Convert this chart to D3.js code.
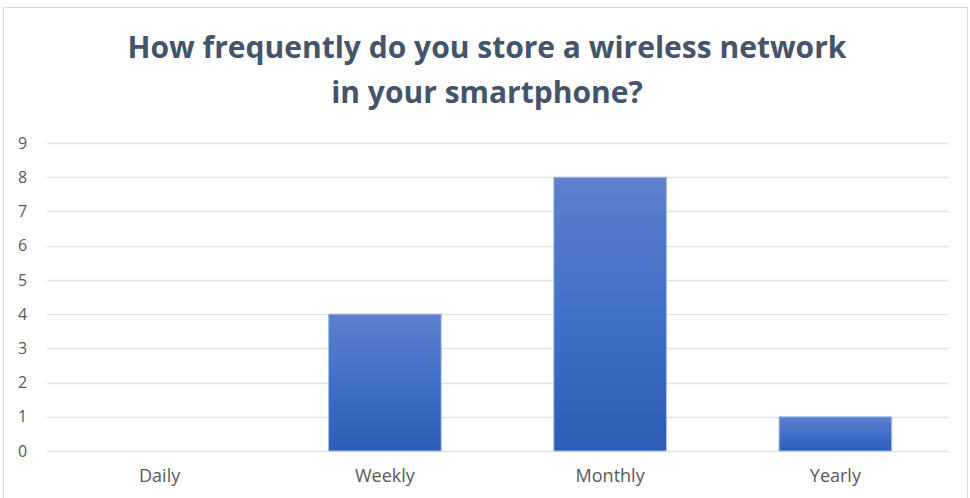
<!DOCTYPE html>
<html>
<head>
<meta charset="utf-8">
<script src="https://cdn.jsdelivr.net/npm/d3@7"></script>
<style>
  html, body { margin: 0; padding: 0; background: #fff; }
  svg { display: block; }
</style>
</head>
<body>
<svg id="chart" width="970" height="498"></svg>
<script>
// Survey answers: how often a wireless network gets saved on the phone
const categories = ["Daily", "Weekly", "Monthly", "Yearly"];
const counts = [0, 4, 8, 1];
const yTicks = [0, 1, 2, 3, 4, 5, 6, 7, 8, 9];
const titleLines = ["How frequently do you store a wireless network", "in your smartphone?"];

const W = 970, H = 498;
const margin = { left: 47, right: 22, top: 143, bottom: 47 };
const svg = d3.select("#chart");

// Outer frame of the chart area
svg.append("rect")
  .attr("x", 3.5).attr("y", 7.5)
  .attr("width", 964).attr("height", 500)
  .attr("fill", "#fff")
  .attr("stroke", "#d9dde3")
  .attr("stroke-width", 1);

const x = d3.scaleBand()
  .domain(categories)
  .range([margin.left, W - margin.right])
  .paddingInner(0.5)
  .paddingOuter(0.25);

const y = d3.scaleLinear()
  .domain([0, 9])
  .range([H - margin.bottom, margin.top]);

// Horizontal gridlines
svg.append("g")
  .selectAll("line")
  .data(yTicks)
  .join("line")
  .attr("x1", margin.left).attr("x2", W - margin.right)
  .attr("y1", d => Math.round(y(d)) + 0.5)
  .attr("y2", d => Math.round(y(d)) + 0.5)
  .attr("stroke", "#dfe3e8")
  .attr("stroke-width", 1.5);

// Y axis labels (no domain line or ticks)
const yAxis = d3.axisLeft(y).tickValues(yTicks).tickSize(0).tickPadding(0);
const yg = svg.append("g").attr("transform", "translate(22.5,0)").call(yAxis);
yg.select(".domain").remove();
yg.selectAll("text")
  .attr("fill", "#595959")
  .attr("font-family", "'Open Sans', sans-serif")
  .attr("font-size", 16)
  .attr("text-anchor", "middle")
  .attr("x", 0);

// X axis labels
const xAxis = d3.axisBottom(x).tickSize(0).tickPadding(0);
const xg = svg.append("g").attr("transform", `translate(0,${H - margin.bottom})`).call(xAxis);
xg.select(".domain").remove();
xg.selectAll("text")
  .attr("fill", "#595959")
  .attr("font-family", "'Open Sans', sans-serif")
  .attr("font-size", 18)
  .attr("dy", 0)
  .attr("y", 31);

// Vertical gradient fill for bars
const defs = svg.append("defs");
const grad = defs.append("linearGradient")
  .attr("id", "barGrad")
  .attr("x1", 0).attr("y1", 0).attr("x2", 0).attr("y2", 1);
grad.append("stop").attr("offset", "0%").attr("stop-color", "#5d81cb");
grad.append("stop").attr("offset", "50%").attr("stop-color", "#416fc8");
grad.append("stop").attr("offset", "100%").attr("stop-color", "#2d5cb6");

svg.append("g")
  .selectAll("rect")
  .data(categories.map((c, i) => ({ c, v: counts[i] })).filter(d => d.v > 0))
  .join("rect")
  .attr("x", d => x(d.c))
  .attr("y", d => y(d.v))
  .attr("width", x.bandwidth())
  .attr("height", d => y(0) - y(d.v))
  .attr("fill", "url(#barGrad)")
  .attr("stroke", "#a9bde4")
  .attr("stroke-width", 1);

// Title
svg.append("g")
  .selectAll("text")
  .data(titleLines)
  .join("text")
  .attr("x", 487)
  .attr("y", (d, i) => 58 + i * 45)
  .attr("text-anchor", "middle")
  .attr("fill", "#44546a")
  .attr("font-family", "'Open Sans', sans-serif")
  .attr("font-weight", 700)
  .attr("font-size", 30)
  .text(d => d);
</script>
</body>
</html>
